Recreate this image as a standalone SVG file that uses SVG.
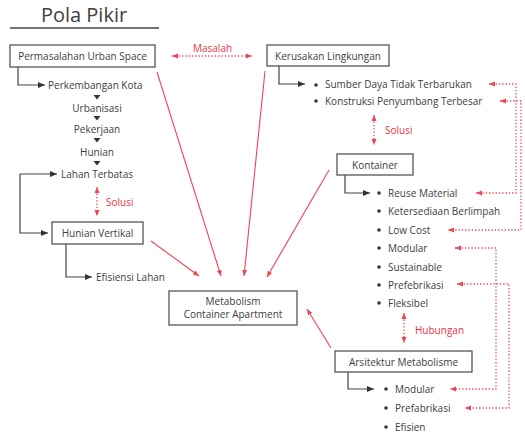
<svg xmlns="http://www.w3.org/2000/svg" width="525" height="436" viewBox="0 0 525 436">
<style>
text{font-family:"Open Sans","Liberation Sans",sans-serif;font-size:10px;fill:#404040}
.c{text-anchor:middle}
.r{fill:#ee3344}
.box{fill:#fff;stroke:#555;stroke-width:1.3}
.k{fill:none;stroke:#444;stroke-width:1.2}
.rs{fill:none;stroke:#f04452;stroke-width:1.1}
.rd{fill:none;stroke:#f04452;stroke-width:1.3;stroke-dasharray:1.3 2}
.b{fill:#333}
</style>
<defs>
<marker id="ah" markerUnits="userSpaceOnUse" markerWidth="7" markerHeight="6" refX="7" refY="3" orient="auto"><path d="M0,0 L7,3 L0,6 z" fill="#333"/></marker>
<marker id="rh" markerUnits="userSpaceOnUse" markerWidth="6" markerHeight="6" refX="6" refY="3" orient="auto-start-reverse"><path d="M0,0.5 L6,3 L0,5.5 z" fill="#f04452"/></marker>
</defs>
<rect width="525" height="436" fill="#fff"/>
<g id="title">
<text x="84" y="22" class="c" style="font-size:20px">Pola Pikir</text>
<line x1="10" y1="28" x2="159" y2="28" stroke="#444" stroke-width="1.3"/>
</g>
<g id="connectors">
<path class="k" d="M18,67 V85 H45" marker-end="url(#ah)"/>
<path class="k" d="M20,174 H57" marker-end="url(#ah)"/>
<path class="k" d="M20,174 V233 H48" marker-end="url(#ah)"/>
<path class="k" d="M66,244 V277 H92" marker-end="url(#ah)"/>
<path class="k" d="M279,66 V84 H305" marker-end="url(#ah)"/>
<path class="k" d="M345,175 V193 H370" marker-end="url(#ah)"/>
<path class="k" d="M348,372 V389 H374" marker-end="url(#ah)"/>
<path d="M93.5,95 h7 l-3.5,4.5 z M93.5,116 h7 l-3.5,4.5 z M93.5,138 h7 l-3.5,4.5 z M93.5,161 h7 l-3.5,4.5 z" fill="#333"/>
<line class="rs" x1="157" y1="72" x2="221" y2="276" marker-end="url(#rh)"/>
<line class="rs" x1="265" y1="71" x2="244" y2="276" marker-end="url(#rh)"/>
<line class="rs" x1="151" y1="241" x2="199" y2="276" marker-end="url(#rh)"/>
<line class="rs" x1="329" y1="170" x2="267" y2="277" marker-end="url(#rh)"/>
<line class="rs" x1="331" y1="348" x2="307" y2="309" marker-end="url(#rh)"/>
<line class="rd" x1="172" y1="56" x2="252" y2="56" marker-start="url(#rh)" marker-end="url(#rh)"/>
<line class="rd" x1="97" y1="187" x2="97" y2="216" marker-start="url(#rh)" marker-end="url(#rh)"/>
<line class="rd" x1="374" y1="115" x2="374" y2="145" marker-start="url(#rh)" marker-end="url(#rh)"/>
<line class="rd" x1="404" y1="313" x2="404" y2="343" marker-start="url(#rh)" marker-end="url(#rh)"/>
<path class="rd" d="M489,84 H516 V193 H476" marker-start="url(#rh)" marker-end="url(#rh)"/>
<path class="rd" d="M500,101 H521 V230 H448" marker-start="url(#rh)" marker-end="url(#rh)"/>
<path class="rd" d="M455,248 H496 V389 H450" marker-start="url(#rh)" marker-end="url(#rh)"/>
<path class="rd" d="M457,284 H509 V408 H465" marker-start="url(#rh)" marker-end="url(#rh)"/>
</g>
<g id="labels">
<text x="193" y="52" class="r">Masalah</text>
<text x="106" y="206" class="r">Solusi</text>
<text x="385" y="134" class="r">Solusi</text>
<text x="415" y="334" class="r">Hubungan</text>
</g>
<g id="permasalahan">
<rect class="box" x="10" y="45" width="145" height="22"/>
<text x="82.5" y="60" class="c">Permasalahan Urban Space</text>
</g>
<g id="chain">
<text x="48" y="89">Perkembangan Kota</text>
<text x="97" y="112" class="c">Urbanisasi</text>
<text x="97" y="133" class="c">Pekerjaan</text>
<text x="97" y="156" class="c">Hunian</text>
<text x="97" y="178" class="c">Lahan Terbatas</text>
</g>
<g id="hunian-vertikal">
<rect class="box" x="52" y="222" width="91" height="22"/>
<text x="97.5" y="237" class="c">Hunian Vertikal</text>
<text x="96" y="281">Efisiensi Lahan</text>
</g>
<g id="kerusakan">
<rect class="box" x="267" y="45" width="122" height="21"/>
<text x="328" y="60" class="c">Kerusakan Lingkungan</text>
<circle class="b" cx="316" cy="85" r="1.8"/>
<circle class="b" cx="316" cy="101" r="1.8"/>
<text x="325" y="88">Sumber Daya Tidak Terbarukan</text>
<text x="325" y="105">Konstruksi Penyumbang Terbesar</text>
</g>
<g id="kontainer">
<rect class="box" x="337" y="154" width="76" height="21"/>
<text x="375" y="169" class="c">Kontainer</text>
<circle class="b" cx="379" cy="193" r="1.8"/>
<circle class="b" cx="379" cy="211" r="1.8"/>
<circle class="b" cx="379" cy="230" r="1.8"/>
<circle class="b" cx="379" cy="248" r="1.8"/>
<circle class="b" cx="379" cy="267" r="1.8"/>
<circle class="b" cx="379" cy="285" r="1.8"/>
<circle class="b" cx="379" cy="303" r="1.8"/>
<text x="388" y="197">Reuse Material</text>
<text x="388" y="215">Ketersediaan Berlimpah</text>
<text x="388" y="234">Low Cost</text>
<text x="388" y="252">Modular</text>
<text x="388" y="271">Sustainable</text>
<text x="388" y="289">Prefebrikasi</text>
<text x="388" y="307">Fleksibel</text>
</g>
<g id="metabolism">
<rect class="box" x="169" y="291" width="128" height="34"/>
<text x="233" y="305" class="c">Metabolism</text>
<text x="233" y="318" class="c">Container Apartment</text>
</g>
<g id="arsitektur">
<rect class="box" x="335" y="351" width="137" height="21"/>
<text x="403.5" y="366" class="c">Arsitektur Metabolisme</text>
<circle class="b" cx="386" cy="389" r="1.8"/>
<circle class="b" cx="386" cy="408" r="1.8"/>
<circle class="b" cx="386" cy="427" r="1.8"/>
<text x="395" y="393">Modular</text>
<text x="395" y="412">Prefabrikasi</text>
<text x="395" y="431">Efisien</text>
</g>
</svg>
